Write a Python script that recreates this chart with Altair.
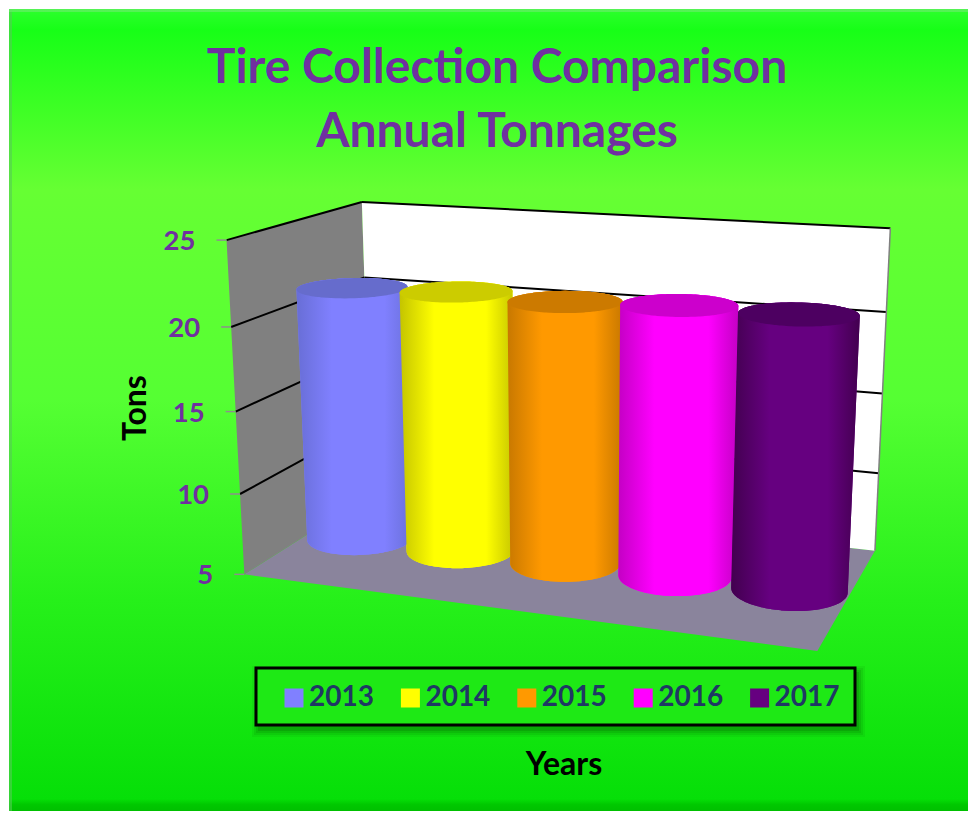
import numpy as np
import pandas as pd
import altair as alt

# ---------- data ----------
YEARS = ["2013", "2014", "2015", "2016", "2017"]
TONS = [21.0, 21.2, 21.05, 21.3, 21.25]
TICKS = [5, 10, 15, 20, 25]
TITLE_LINES = ["Tire Collection Comparison", "Annual Tonnages"]
Y_TITLE = "Tons"
X_TITLE = "Years"

# ---------- styles ----------
FLAT = ["#8080ff", "#ffff00", "#ff9900", "#ff00ff", "#660080"]
EDGE = ["#686ed6", "#c4c400", "#c87800", "#c400c4", "#42004f"]
CAP = ["#666ccc", "#cccc00", "#cc7a00", "#cc00cc", "#4d0061"]
PURPLE = "#7030a0"
NAVY = "#1f3864"
FONT = "Lato"
W, H = 960, 803
x_scale = alt.Scale(domain=[8, 8 + W], range=[0, W], nice=False, zero=False)
y_scale = alt.Scale(domain=[8, 8 + H], range=[0, H], nice=False, zero=False)
X = lambda f="x": alt.X(f"{f}:Q", scale=x_scale, axis=None, title=None)
Y = lambda f="y": alt.Y(f"{f}:Q", scale=y_scale, axis=None, title=None)
X2 = alt.X2("x2:Q")
Y2 = alt.Y2("y2:Q")

# ---------- camera: perspective fitted to the box of the 3-D chart ----------
# (along years, depth, height) -> position in the picture
CALIBRATION = [
    ((0, 0, 1), (226, 240)), ((0, 0, .75), (232, 327)), ((0, 0, .5), (236, 411)),
    ((0, 0, .25), (240, 494)), ((0, 0, 0), (244, 574)),
    ((0, 1, 1), (362, 202)), ((0, 1, .75), (364, 277)), ((0, 1, .5), (366, 352)),
    ((0, 1, .25), (369, 423)), ((0, 1, 0), (372, 495)),
    ((1, 1, 1), (891, 229)), ((1, 1, .75), (886, 312)), ((1, 1, .5), (882, 393)),
    ((1, 1, .25), (879, 473)), ((1, 1, 0), (875, 550)), ((1, 0, 0), (817, 652)),
]
A, b = [], []
for (u, v, w), (px, py) in CALIBRATION:
    A.append([u, v, w, 1, 0, 0, 0, 0, -px * u, -px * v, -px * w])
    b.append(px)
    A.append([0, 0, 0, 0, u, v, w, 1, -py * u, -py * v, -py * w])
    b.append(py)
P = np.append(np.linalg.lstsq(np.array(A, float), np.array(b, float), rcond=None)[0], 1).reshape(3, 4)


def project(u, v, w):
    q = P @ np.array([u, v, w, 1.0])
    return q[0] / q[2], q[1] / q[2]


def height(t):
    return (t - TICKS[0]) / (TICKS[-1] - TICKS[0])


def hull(points):
    pts = sorted(set((round(a, 3), round(c, 3)) for a, c in points))
    def half(seq):
        out = []
        for p in seq:
            while len(out) > 1 and (out[-1][0] - out[-2][0]) * (p[1] - out[-2][1]) - (out[-1][1] - out[-2][1]) * (p[0] - out[-2][0]) <= 0:
                out.pop()
            out.append(p)
        return out
    return half(pts), half(pts[::-1])[::-1]


def area_rows(points, **extra):
    a, c = hull(points)
    xs = sorted(set([p[0] for p in a] + [p[0] for p in c]))
    ya = np.interp(xs, [p[0] for p in a], [p[1] for p in a])
    yc = np.interp(xs, [p[0] for p in c], [p[1] for p in c])
    return pd.DataFrame([dict(x=x, y=min(i, j), y2=max(i, j), **extra) for x, i, j in zip(xs, ya, yc)])


def gradient(stops, horizontal=True):
    return alt.Gradient(
        gradient="linear",
        stops=[alt.GradientStop(color=c, offset=o) for o, c in stops],
        x1=0, x2=1 if horizontal else 0, y1=0, y2=0 if horizontal else 1,
    )


def polygon(points, color):
    return alt.Chart(area_rows(points)).mark_area(color=color, line=False, interpolate="linear").encode(x=X(), y=Y(), y2=Y2)


def segments(rows, color, width):
    return alt.Chart(pd.DataFrame(rows)).mark_rule(color=color, strokeWidth=width).encode(x=X(), x2=X2, y=Y(), y2=Y2)


def seg(a, c):
    return dict(x=a[0], y=a[1], x2=c[0], y2=c[1])


def box(x, y, x2, y2):
    return pd.DataFrame([dict(x=x, y=y, x2=x2, y2=y2)])


layers = []

# ---------- panel ----------
layers.append(
    alt.Chart(box(9, 9, 8 + W, 8 + H)).mark_rect(
        color=gradient([(0, "#2dff2d"), (.026, "#17ff17"), (.226, "#66ff33"), (.487, "#55ff33"),
                        (.737, "#26f01a"), (.985, "#06df08"), (.992, "#00c800"), (1, "#00c000")], False)
    ).encode(x=X(), x2=X2, y=Y(), y2=Y2)
)
layers.append(alt.Chart(box(9, 9, 12, 8 + H)).mark_rect(color="#55cc55", opacity=.6).encode(x=X(), x2=X2, y=Y(), y2=Y2))
layers.append(alt.Chart(box(9, 9, 8 + W, 12)).mark_rect(color="#66ee66", opacity=.7).encode(x=X(), x2=X2, y=Y(), y2=Y2))

# ---------- box walls ----------
layers.append(polygon([project(0, 0, 0), project(0, 1, 0), project(1, 1, 0), project(1, 0, 0)], "#8a849c"))
layers.append(polygon([project(0, 0, 0), project(0, 1, 0), project(0, 1, 1), project(0, 0, 1)], "#808080"))
layers.append(polygon([project(0, 1, 0), project(1, 1, 0), project(1, 1, 1), project(0, 1, 1)], "#ffffff"))

grid = []
for t in TICKS[1:]:
    h = height(t)
    grid += [seg(project(0, 0, h), project(0, 1, h)), seg(project(0, 1, h), project(1, 1, h))]
layers.append(segments(grid, "#000000", 2))
layers.append(segments([seg(project(1, 1, 0), project(1, 1, 1))], "#808080", 1.5))

tick_rows, label_rows = [], []
for t in TICKS:
    ex, ey = project(0, 0, height(t))
    tick_rows.append(seg((ex - 10, ey), (ex, ey)))
    label_rows.append(dict(x=ex - 31, y=ey + 2, label=str(t)))
layers.append(segments(tick_rows, "#8e8e8e", 1.5))
layers.append(
    alt.Chart(pd.DataFrame(label_rows)).mark_text(
        font=FONT, fontWeight="bold", fontSize=27.5, color=PURPLE, align="right", baseline="middle"
    ).encode(x=X(), y=Y(), text="label:N")
)

# ---------- cylinders ----------
RU, RV, CV = .097, .2, .5
ANGLES = np.arange(0, 360, 5) * np.pi / 180


def ring(i, h):
    cu = (i + .5) / len(YEARS)
    return [project(cu + RU * np.cos(a), CV + RV * np.sin(a), h) for a in ANGLES]


silhouettes = []
for i, (year, tons) in enumerate(zip(YEARS, TONS)):
    silhouettes.append(area_rows(ring(i, 0) + ring(i, height(tons)), year=year))

# flat colours carry the legend
layers.append(
    alt.Chart(pd.concat(silhouettes)).mark_area(interpolate="linear").encode(
        x=X(), y=Y(), y2=Y2,
        color=alt.Color(
            "year:N",
            scale=alt.Scale(domain=YEARS, range=FLAT),
            legend=alt.Legend(
                orient="none", direction="horizontal", columns=5, title=None,
                legendX=272, legendY=676, symbolType="square", symbolSize=361,
                symbolStrokeWidth=0, symbolOpacity=1, labelFont=FONT, labelFontWeight="bold",
                labelFontSize=28, labelColor=NAVY, labelOffset=1, columnPadding=22.4, padding=0,
            ),
        ),
    )
)
for i, (year, tons) in enumerate(zip(YEARS, TONS)):
    layers.append(
        alt.Chart(silhouettes[i]).mark_area(
            interpolate="linear",
            color=gradient([(0, EDGE[i]), (.3, FLAT[i]), (.75, FLAT[i]), (1, EDGE[i])]),
        ).encode(x=X(), y=Y(), y2=Y2)
    )
    layers.append(
        alt.Chart(area_rows(ring(i, height(tons)))).mark_area(interpolate="linear", color=CAP[i]).encode(x=X(), y=Y(), y2=Y2)
    )

# ---------- legend frame and axis titles ----------
for grow, alpha in ((7, .06), (5, .08), (3, .1), (1, .14)):
    layers.append(
        alt.Chart(box(256 + 3 - grow, 668 + 5 - grow, 855 + 3 + grow, 725 + 5 + grow)).mark_rect(color="#003300", opacity=alpha).encode(x=X(), x2=X2, y=Y(), y2=Y2)
    )
layers.append(
    alt.Chart(box(256, 668, 855, 725)).mark_rect(color="#1ee915", stroke="#000000", strokeWidth=3).encode(x=X(), x2=X2, y=Y(), y2=Y2)
)
layers.append(
    alt.Chart(pd.DataFrame([dict(x=136, y=408, label=Y_TITLE)])).mark_text(
        font=FONT, fontWeight="bold", fontSize=32, color="#000000", angle=270, align="center", baseline="middle"
    ).encode(x=X(), y=Y(), text="label:N")
)
layers.append(
    alt.Chart(pd.DataFrame([dict(x=564, y=765, label=X_TITLE)])).mark_text(
        font=FONT, fontWeight="bold", fontSize=32, color="#000000", align="center", baseline="middle"
    ).encode(x=X(), y=Y(), text="label:N")
)

chart = (
    alt.layer(*layers)
    .properties(
        width=W, height=H, padding=0,
        autosize=alt.AutoSizeParams(type="none"),
        title=alt.TitleParams(
            text=TITLE_LINES, font=FONT, fontWeight="bold", fontSize=48, color=PURPLE,
            anchor="middle", frame="group", dx=9, dy=191, lineHeight=64, baseline="alphabetic",
        ),
    )
    .configure_view(stroke=None)
)
chart.save("out.html", embed_options={"renderer": "svg", "actions": False})
